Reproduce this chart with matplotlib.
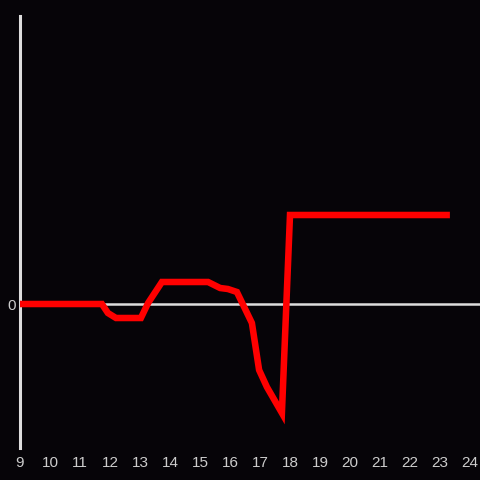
import numpy as np
import matplotlib.pyplot as plt

# series
hours = [9.0, 11.73, 11.93, 12.2, 13.03, 13.27, 13.73, 15.27, 15.67, 15.93, 16.23,
         16.73, 16.97, 17.23, 17.73, 18.0, 23.33]
values = [0.0, 0.0, -0.9, -1.4, -1.4, 0.1, 2.2, 2.2, 1.6, 1.5, 1.2,
          -1.9, -6.6, -8.3, -10.9, 8.9, 8.9]
xticks = list(range(9, 25))

bg = '#060408'
fg = '#dddddd'

fig = plt.figure(figsize=(4.8, 4.8), dpi=100, facecolor=bg)
ax = fig.add_axes([20/480, 32/480, 460/480, 432/480])
ax.set_facecolor(bg)

ax.axhline(0, color=fg, lw=1.8, zorder=1)
ax.plot(hours, values, color='#ff0000', lw=4.7, solid_joinstyle='miter',
        solid_capstyle='butt', zorder=3)

ax.set_xlim(9, 9 + 460/30)
ax.set_ylim(-14.4, 28.8)
ax.set_xticks(xticks)
ax.set_xticklabels([str(t) for t in xticks])
ax.set_yticks([0])
ax.set_yticklabels(['0'])
ax.tick_params(length=0, colors='#cccccc', labelsize=11, pad=6)
ax.tick_params(axis='y', pad=3)
for lab in ax.get_xticklabels() + ax.get_yticklabels():
    lab.set_family('Liberation Sans')

for s in ['top', 'right', 'bottom']:
    ax.spines[s].set_visible(False)
ax.spines['left'].set_color(fg)
ax.spines['left'].set_linewidth(2.2)

fig.savefig('out.png', dpi=100, facecolor=bg)
